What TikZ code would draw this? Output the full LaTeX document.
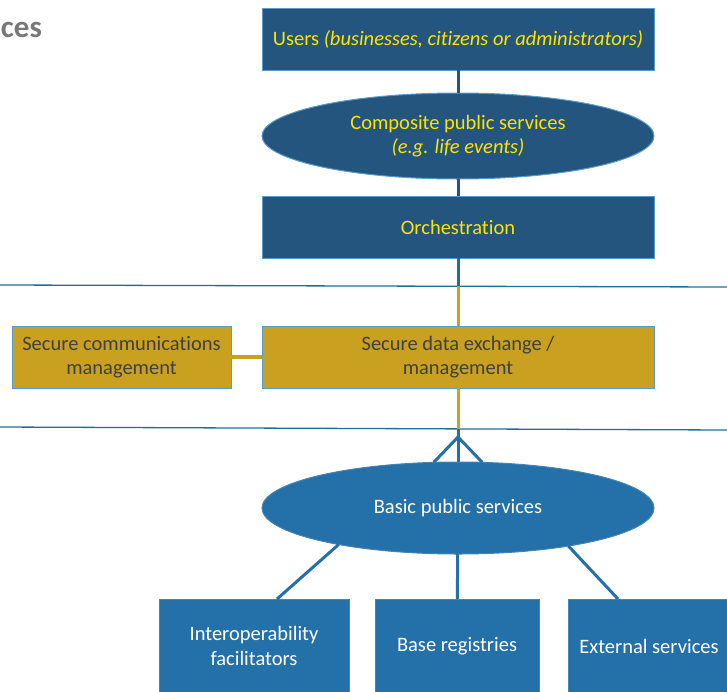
\documentclass[tikz,border=0pt]{standalone}
\usepackage{fontspec}
\setmainfont[Ligatures=NoCommon]{Carlito}
\usetikzlibrary{shapes.geometric}
\definecolor{navy}{RGB}{35,85,126}
\definecolor{ocean}{RGB}{36,112,168}
\definecolor{gold}{RGB}{201,160,32}
\definecolor{rim}{RGB}{88,155,205}
\definecolor{rule}{RGB}{30,110,155}
\definecolor{lemon}{RGB}{255,228,0}
\definecolor{ink}{RGB}{64,64,64}
\definecolor{title}{RGB}{120,120,120}

\begin{document}
\begin{tikzpicture}[x=1pt,y=-1pt,
  every node/.style={font=\fontsize{20.5}{24.5}\selectfont,inner sep=0pt,outer sep=0pt,align=center},
  navybox/.style={rectangle,fill=navy,draw=rim,line width=1pt,text=lemon,
    minimum width=392pt,minimum height=62pt},
  navyoval/.style={ellipse,fill=navy,draw=rim,line width=1pt,text=lemon,
    minimum width=392pt,minimum height=86pt},
  goldbox/.style={rectangle,fill=gold,draw=rim,line width=1pt,text=ink,minimum height=62pt},
  oceanbox/.style={rectangle,fill=ocean,draw=ocean!85!white,line width=1pt,text=white,minimum height=94pt},
  oceanoval/.style={ellipse,fill=ocean,draw=ocean!85!white,line width=1pt,text=white,
    minimum width=392pt,minimum height=92pt},
  navylink/.style={draw=navy,line width=3pt},
  rulelink/.style={draw=rule,line width=3pt},
  goldlink/.style={draw=gold,line width=3pt},
  oceanlink/.style={draw=ocean,line width=3pt},
  sep/.style={draw=rule,line width=1.3pt}]
  \path[use as bounding box,clip] (0,0) rectangle (727,691);

  \node[anchor=base west,text=title,font=\fontsize{31}{35}\selectfont\bfseries] (head) at (1,37) {ces};

  % layer separators
  \draw[sep] (0,285) -- (727,287);
  \draw[sep] (0,427) -- (727,430);
  \coordinate (cut1) at (458,286);
  \coordinate (cut2) at (458,429);
  \coordinate (fork) at (458,437);

  \node[navybox] (users) at (458,39) {Users \textit{(businesses, citizens or administrators)}};
  \node[navyoval] (comp) at (458,136) {Composite public services\\\textit{(e.g. life events)}};
  \node[navybox] (orch) at (458,227) {Orchestration};

  \node[goldbox,minimum width=392pt] (exch) at (458,357) {Secure data exchange /\\management};
  \node[goldbox,minimum width=219pt] (comm) at (121.5,357) {Secure communications\\management};

  \node[oceanoval] (basic) at (458,508) {Basic public services};
  \node[oceanbox,minimum width=190pt] (interop) at (254,646) {Interoperability\\facilitators};
  \node[oceanbox,minimum width=164pt] (registry) at (457,646) {Base registries};
  \node[oceanbox,minimum width=162pt] (external) at (649,646) {External services};

  \draw[navylink] (users) -- (comp);
  \draw[navylink] (comp) -- (orch);
  \draw[rulelink] (orch) -- (cut1);
  \draw[goldlink] (cut1) -- (exch);
  \draw[goldlink,line width=4pt] (comm) -- (exch);
  \draw[goldlink] (exch) -- (cut2);
  \draw[oceanlink] (cut2) -- (fork);
  \draw[oceanlink] (fork) -- (basic.118);
  \draw[oceanlink] (fork) -- (basic.north);
  \draw[oceanlink] (fork) -- (basic.62);
  \draw[oceanlink] (basic.197) -- ([xshift=23pt]interop.north);
  \draw[oceanlink] (basic) -- (registry);
  \draw[oceanlink] (basic.341) -- ([xshift=-31pt]external.north);
\end{tikzpicture}
\end{document}
